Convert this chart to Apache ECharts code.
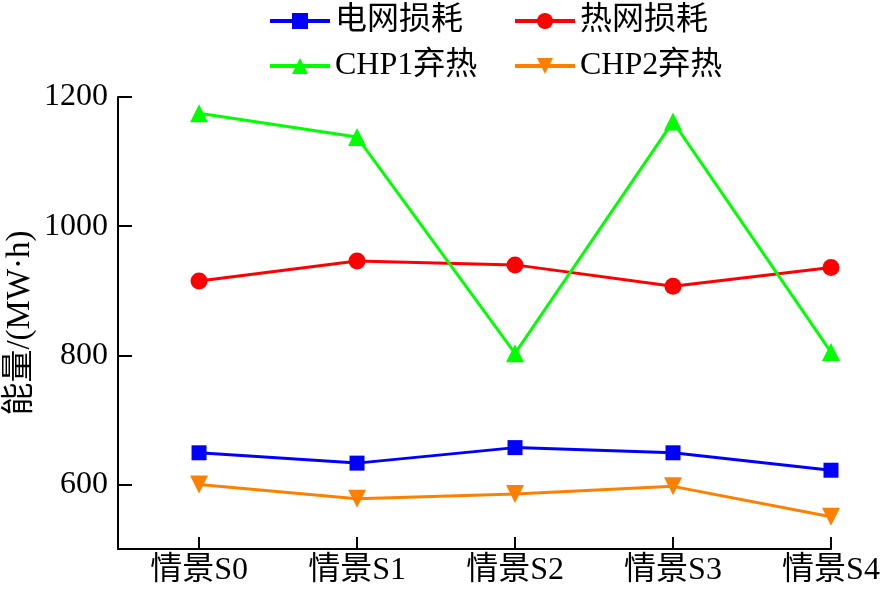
<!DOCTYPE html>
<html><head><meta charset="utf-8">
<script src="https://cdn.jsdelivr.net/npm/echarts@6/dist/echarts.min.js"></script>
<style>html,body{margin:0;padding:0;background:#fff}#c{width:883px;height:594px}</style>
</head><body><div id="c"></div>
<script>
var categories = ['情景S0','情景S1','情景S2','情景S3','情景S4'];
var gridLoss = [649, 633, 657, 649, 622];
var heatLoss = [915, 946, 940, 907, 936];
var chp1Curtail = [1175, 1138, 803, 1162, 805];
var chp2Curtail = [600, 578, 585, 597, 550];
var yTicks = [600, 800, 1000, 1200];
var seriesNames = ['电网损耗','热网损耗','CHP1弃热','CHP2弃热'];

var FONT = "'Liberation Serif', 'Noto Sans CJK SC', serif";
function pts(arr){ return arr.map(function(v,i){ return [i, v]; }); }
var chart = echarts.init(document.getElementById('c'), null, {renderer:'canvas'});
var legendText = {fontFamily: FONT, fontSize: 32, color:'#000'};
var legendPos = [[263, 0], [508, 0], [263, 45], [508, 45]];
chart.setOption({
  animation:false,
  backgroundColor:'#fff',
  textStyle:{fontFamily:FONT},
  legend: seriesNames.map(function(n, i){
    return {data:[n], left:legendPos[i][0], top:legendPos[i][1], itemWidth:60, itemHeight:20, textStyle:legendText, selectedMode:false, lineStyle:{width:4}};
  }),
  grid:{left:118, right:52, top:97, bottom:45, containLabel:false, outerBoundsMode:'none'},
  xAxis:{
    type:'value', min:-0.513, max:4,
    axisLine:{show:true, onZero:false, lineStyle:{color:'#000', width:2}},
    axisTick:{show:true, inside:true, length:12, lineStyle:{color:'#000', width:2}, customValues:[0,1,2,3,4]},
    axisLabel:{customValues:[0,1,2,3,4], formatter:function(v){return categories[Math.round(v)];}, fontFamily:FONT, fontSize:32, color:'#000', margin:6},
    splitLine:{show:false}
  },
  yAxis:{
    type:'value', min:500, max:1200,
    name:'能量/(MW·h)', nameLocation:'middle', nameGap:98, nameRotate:90, nameMoveOverlap:false,
    nameTextStyle:{fontFamily:FONT, fontSize:33, color:'#000', align:'center', verticalAlign:'middle'},
    axisLine:{show:true, onZero:false, lineStyle:{color:'#000', width:2}},
    axisTick:{show:true, inside:true, length:14, lineStyle:{color:'#000', width:2}, customValues:yTicks},
    axisLabel:{customValues:yTicks, formatter:function(v){return String(v);}, fontFamily:FONT, fontSize:32, color:'#000', margin:10},
    splitLine:{show:false}
  },
  series:[
    {name:seriesNames[0], type:'line', data:pts(gridLoss), symbol:'rect', symbolSize:15, itemStyle:{color:'#0000ff'}, lineStyle:{color:'#0000ff', width:3}},
    {name:seriesNames[1], type:'line', data:pts(heatLoss), symbol:'circle', symbolSize:17, itemStyle:{color:'#ff0000'}, lineStyle:{color:'#ff0000', width:3}},
    {name:seriesNames[2], type:'line', data:pts(chp1Curtail), symbol:'triangle', symbolSize:18, itemStyle:{color:'#00ff00'}, lineStyle:{color:'#00ff00', width:3}},
    {name:seriesNames[3], type:'line', data:pts(chp2Curtail), symbol:'triangle', symbolRotate:180, symbolSize:18, itemStyle:{color:'#ff8000'}, lineStyle:{color:'#ff8000', width:3}}
  ]
});
</script></body></html>
